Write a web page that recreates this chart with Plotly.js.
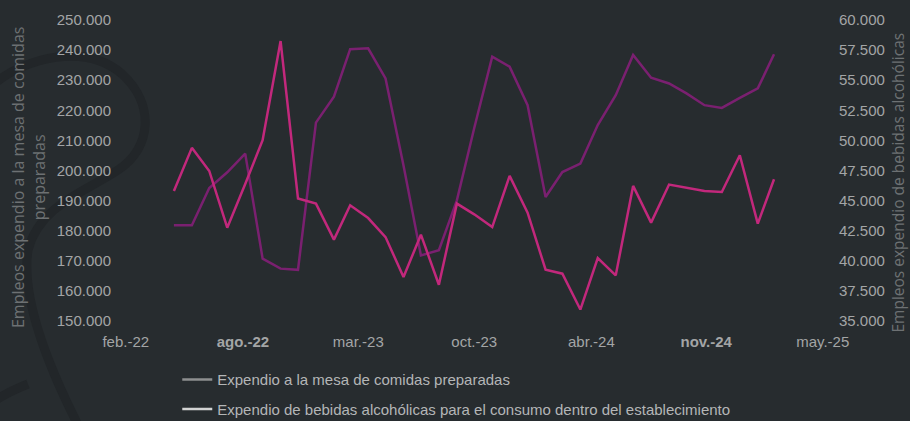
<!DOCTYPE html>
<html>
<head>
<meta charset="utf-8">
<script src="https://cdn.plot.ly/plotly-3.0.1.min.js"></script>
<style>
  html, body { margin: 0; padding: 0; background: #272c2f; }
  #chart { width: 910px; height: 421px; }
</style>
</head>
<body>
<div id="chart"></div>
<script>
// Months (monthly observations)
const months = [
  '2022-05-01','2022-06-01','2022-07-01','2022-08-01','2022-09-01','2022-10-01','2022-11-01','2022-12-01',
  '2023-01-01','2023-02-01','2023-03-01','2023-04-01','2023-05-01','2023-06-01','2023-07-01','2023-08-01',
  '2023-09-01','2023-10-01','2023-11-01','2023-12-01',
  '2024-01-01','2024-02-01','2024-03-01','2024-04-01','2024-05-01','2024-06-01','2024-07-01','2024-08-01',
  '2024-09-01','2024-10-01','2024-11-01','2024-12-01',
  '2025-01-01','2025-02-01','2025-03-01'
];

// Empleos expendio a la mesa de comidas preparadas (left axis)
const comidas = [
  181800, 181800, 194200, 199400, 205600, 170700, 167400, 167000,
  215900, 224500, 240300, 240600, 230600, 201700, 171800, 173500,
  190100, 214100, 237800, 234500,
  221700, 191200, 199500, 202300, 215100, 225000, 238400, 230800,
  228900, 225600, 221700, 220800,
  224100, 227300, 238600
];

// Empleos expendio de bebidas alcohólicas (right axis)
const bebidas = [
  45800, 49380, 47460, 42750, 46380, 50020, 58250, 45170,
  44750, 41760, 44610, 43550, 41970, 38650, 42170, 38010,
  44750, 43860, 42800, 47050,
  44000, 39260, 38930, 35950, 40230, 38790, 46220, 43170,
  46330, 46050, 45800, 45720,
  48770, 43090, 46770
];

// Axis ticks
const xTickDates = ['2022-02-07','2022-08-28','2023-03-15','2023-10-01','2024-04-20','2024-11-04','2025-05-24'];
const xTickLabels = ['feb.-22','<b>ago.-22</b>','mar.-23','oct.-23','abr.-24','<b>nov.-24</b>','may.-25'];
const yLeftTicks = [150000,160000,170000,180000,190000,200000,210000,220000,230000,240000,250000];
const yLeftLabels = ['150.000','160.000','170.000','180.000','190.000','200.000','210.000','220.000','230.000','240.000','250.000'];
const yRightTicks = [35000,37500,40000,42500,45000,47500,50000,52500,55000,57500,60000];
const yRightLabels = ['35.000','37.500','40.000','42.500','45.000','47.500','50.000','52.500','55.000','57.500','60.000'];

const seriesNames = [
  'Expendio a la mesa de comidas preparadas',
  'Expendio de bebidas alcohólicas para el consumo dentro del establecimiento'
];
const leftTitle = 'Empleos expendio a la mesa de comidas<br>preparadas';
const rightTitle = 'Empleos expendio de bebidas alcohólicas';

const BG = '#272c2f';
const TICK = '#a3a5a6';
const TITLE = '#6d7173';
const FONT = 'Liberation Sans, Arial, sans-serif';

// Faint decorative background stroke (page pixels), converted to paper coords
const M = { l: 118, r: 78, t: 20, b: 100 };
const PW = 910 - M.l - M.r, PH = 421 - M.t - M.b;
const px = (x) => ((x - M.l) / PW).toFixed(4);
const py = (y) => ((421 - M.b - y) / PH).toFixed(4);
const P = (x, y) => px(x) + ',' + py(y);
const decoPath1 = 'M' + P(-6, 84) + ' C' + P(25, 58) + ' ' + P(85, 42) + ' ' + P(122, 74) +
  ' C' + P(155, 104) + ' ' + P(152, 148) + ' ' + P(118, 170) +
  ' C' + P(85, 192) + ' ' + P(40, 205) + ' ' + P(28, 250) +
  ' C' + P(22, 290) + ' ' + P(40, 350) + ' ' + P(78, 425);
const decoPath2 = 'M' + P(-4, 400) + ' C' + P(8, 392) + ' ' + P(18, 388) + ' ' + P(28, 384);

const traces = [
  { x: months, y: comidas, type: 'scatter', mode: 'lines', yaxis: 'y',
    line: { color: '#7a2070', width: 2.5 }, showlegend: false, hoverinfo: 'skip' },
  { x: months, y: bebidas, type: 'scatter', mode: 'lines', yaxis: 'y2',
    line: { color: '#c2287c', width: 2.5 }, showlegend: false, hoverinfo: 'skip' },
  // legend entries (legend swatches are grey in the reference)
  { x: [null], y: [null], type: 'scatter', mode: 'lines', name: seriesNames[0],
    legendgroup: 'a', line: { color: '#8e8f90', width: 2.5 } },
  { x: [null], y: [null], type: 'scatter', mode: 'lines', name: seriesNames[1],
    legendgroup: 'b', line: { color: '#d2d3d3', width: 2.5 } }
];

const layout = {
  width: 910, height: 421,
  paper_bgcolor: BG, plot_bgcolor: 'rgba(0,0,0,0)',
  margin: { l: M.l, r: M.r, t: M.t, b: M.b, autoexpand: false },
  font: { family: FONT, size: 15, color: TICK },
  showlegend: true,
  legend: {
    x: 0.083, xanchor: 'left', y: -0.14, yanchor: 'top',
    orientation: 'v', traceorder: 'grouped', tracegroupgap: 7,
    bgcolor: 'rgba(0,0,0,0)',
    font: { family: FONT, size: 15, color: '#b4b6b7' }
  },
  xaxis: {
    type: 'date',
    range: ['2022-01-24 14:00', '2025-06-09'],
    tickmode: 'array', tickvals: xTickDates, ticktext: xTickLabels,
    showgrid: false, zeroline: false, showline: false, ticks: '',
    tickfont: { family: FONT, size: 15, color: TICK },
    ticklabelstandoff: 10
  },
  yaxis: {
    range: [150000, 250000],
    tickmode: 'array', tickvals: yLeftTicks, ticktext: yLeftLabels,
    showgrid: false, zeroline: false, showline: false, ticks: '',
    tickfont: { family: FONT, size: 15, color: TICK },
    ticklabelstandoff: 6
  },
  yaxis2: {
    overlaying: 'y', side: 'right',
    range: [35000, 60000],
    tickmode: 'array', tickvals: yRightTicks, ticktext: yRightLabels,
    showgrid: false, zeroline: false, showline: false, ticks: '',
    tickfont: { family: FONT, size: 15, color: TICK },
    ticklabelstandoff: 6
  },
  shapes: [
    { type: 'path', xref: 'paper', yref: 'paper', layer: 'below', path: decoPath1,
      line: { color: '#222629', width: 9 } },
    { type: 'path', xref: 'paper', yref: 'paper', layer: 'below', path: decoPath2,
      line: { color: '#222629', width: 9 } }
  ],
  annotations: [
    { text: leftTitle, xref: 'paper', yref: 'paper', x: 0, y: 0.475,
      xanchor: 'center', yanchor: 'middle',
      xshift: -90, textangle: -90, showarrow: false,
      font: { family: 'Open Sans, sans-serif', size: 16, color: TITLE } },
    { text: rightTitle, xref: 'paper', yref: 'paper', x: 1, y: 0.46,
      xanchor: 'center', yanchor: 'middle',
      xshift: 66, textangle: -90, showarrow: false,
      font: { family: 'Open Sans, sans-serif', size: 15.5, color: TITLE } }
  ]
};

Plotly.newPlot('chart', traces, layout, { displayModeBar: false, staticPlot: true });
</script>
</body>
</html>
